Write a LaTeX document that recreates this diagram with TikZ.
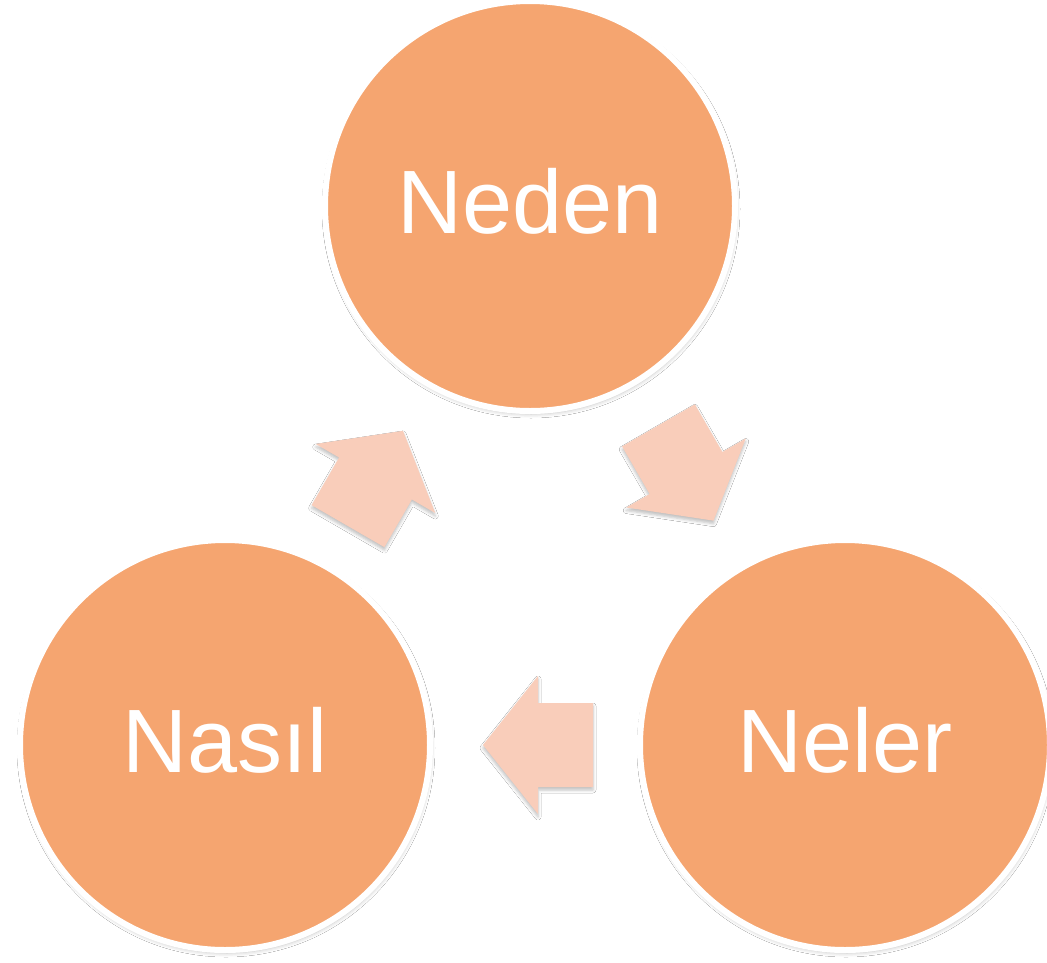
\documentclass[tikz,border=0pt]{standalone}
\usepackage{fontspec}
\setmainfont{Liberation Sans}
\usetikzlibrary{shadows.blur}
\definecolor{circfill}{RGB}{245,165,112}
\definecolor{arrfill}{RGB}{249,205,186}
\tikzset{
  circ/.style={circle, inner sep=0pt, minimum size=410pt, fill=circfill,
    draw=white, line width=6pt, text=white,
    font=\fontsize{90}{100}\selectfont, text height=66pt, text depth=11pt,
    blur shadow={shadow xshift=1pt, shadow yshift=-3pt, shadow blur radius=4pt, shadow opacity=25}},
  barrow/.pic={
    \fill[arrfill, blur shadow={shadow xshift=0pt, shadow yshift=-3pt, shadow blur radius=3pt, shadow opacity=25}]
      (-55,-42) -- (0,-42) -- (0,-69) -- (55,0) -- (0,69) -- (0,42) -- (-55,42) -- cycle;
  }
}
\begin{document}
\begin{tikzpicture}[x=1pt, y=-1pt]
  \useasboundingbox (0,0) rectangle (1047,962);
  \fill[white] (0,0) rectangle (1047,962);
  \node[circ] (neden) at (530,206) {Neden};
  \node[circ] (nasil) at (225,745) {Nas\i l};
  \node[circ] (neler) at (845,745) {Neler};
  \pic[rotate=-60] (a1) at (686,473) {barrow};
  \pic[rotate=180] (a2) at (538,745) {barrow};
  \pic[rotate=60] (a3) at (375.5,478.5) {barrow};
\end{tikzpicture}
\end{document}
